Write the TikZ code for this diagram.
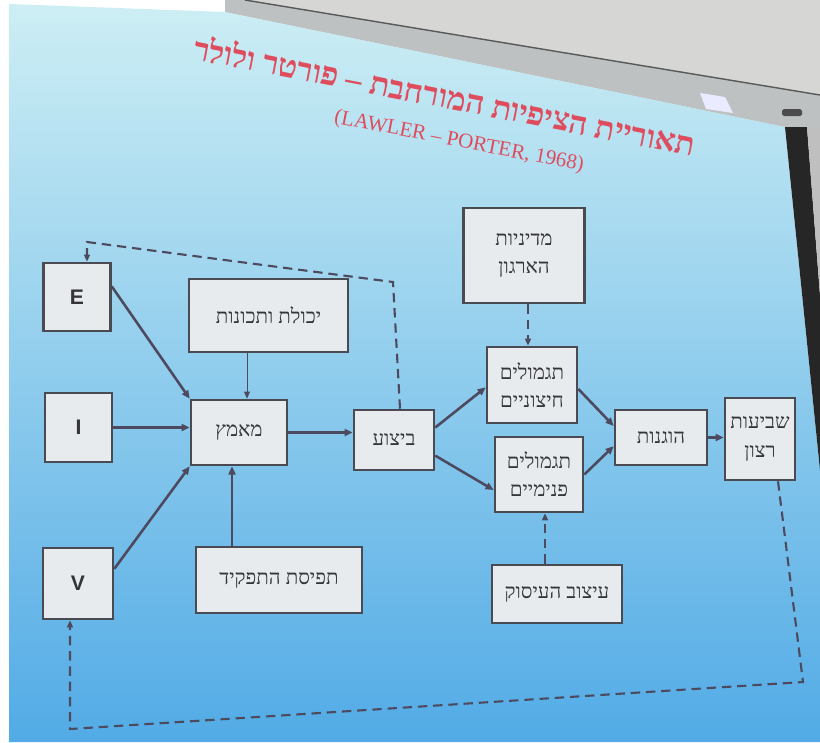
\documentclass[tikz,border=0pt]{standalone}
\usepackage{fontspec}
\setmainfont{Liberation Serif}
\newfontfamily\hebfont[Script=Hebrew]{Liberation Serif}
\newfontfamily\latsans{Liberation Sans}
\TeXXeTstate=1
\usetikzlibrary{arrows.meta,calc}
\newcommand\pxu{0.03cm}
\newcommand\heb[1]{\beginR #1\endR}
\definecolor{ln}{HTML}{4D4A60}
\definecolor{bxfill}{HTML}{E7EBED}
\definecolor{bxdraw}{HTML}{4A4A52}
\definecolor{bxtext}{HTML}{34343A}
\definecolor{ttl}{HTML}{DE4C5E}
\definecolor{scrtop}{HTML}{CDEEF4}
\definecolor{scrmid}{HTML}{92D4F0}
\definecolor{scrbot}{HTML}{52ABE6}
\definecolor{wall}{HTML}{D6D6D4}
\definecolor{casing}{HTML}{BDC1C2}
\begin{document}
\begin{tikzpicture}[x=0.03cm,y=-0.03cm,
  box/.style={draw=bxdraw, fill=bxfill, line width=2.2pt, inner sep=0pt,
    text=bxtext, align=center, font=\hebfont\fontsize{17.5}{21}\selectfont},
  letter/.style={box, font=\latsans\bfseries\fontsize{18}{20}\selectfont},
  arr/.style={draw=ln, line width=2.2pt, -{Triangle[length=7pt,width=6pt]}},
  thinarr/.style={draw=ln, line width=0.8pt, -{Triangle[length=6pt,width=5pt]}},
  dashline/.style={draw=ln, line width=1.8pt, dash pattern=on 8pt off 5pt},
  dasharr/.style={dashline, -{Triangle[length=6pt,width=5pt]}}]
\useasboundingbox (0,0) rectangle (820,742);
% photo background
\fill[white] (0,0) rectangle (820,742);
\fill[wall] (225,0) -- (820,0) -- (820,127) -- (785,127) -- (225,12) -- cycle;
\fill[casing] (245,0) -- (820,95) -- (820,127) -- (785,127) -- (225,12) -- (225,0) -- cycle;
\draw[black!65, line width=1.2pt] (245,0) -- (820,95);
\shade[top color=scrtop, middle color=scrmid, bottom color=scrbot]
  (9,4) -- (225,12) -- (785,127) -- (820,470) -- (820,742) -- (9,742) -- cycle;
\fill[black!85] (785,127) -- (807,127) -- (820,295) -- (820,470) -- cycle;
\fill[black!25] (807,127) -- (820,127) -- (820,295) -- cycle;
\fill[white!92!blue] (700,93) -- (725,97) -- (733,113) -- (706,109) -- cycle;
\fill[black!70, rounded corners=1.5pt] (782,109) rectangle (802,116);
% title
\node[rotate=-11, text=ttl, font=\hebfont\bfseries\fontsize{27.5}{30}\selectfont] (title) at (445,95)
  {\heb{תאוריית הציפיות המורחבת – פורטר ולולר}};
\node[rotate=-11, text=ttl, font=\fontsize{18}{20}\selectfont] (sub) at (459,142)
  {(LAWLER – PORTER, 1968)};
% boxes
\node[letter, minimum width=67*\pxu, minimum height=68*\pxu] (E) at (77,297) {E};
\node[letter, minimum width=67*\pxu, minimum height=69*\pxu] (I) at (78.5,427.5) {I};
\node[letter, minimum width=70*\pxu, minimum height=71*\pxu] (V) at (78,583.5) {V};
\node[box, minimum width=159*\pxu, minimum height=73*\pxu] (ab) at (268.5,315.5) {\heb{יכולת ותכונות}};
\node[box, minimum width=96*\pxu, minimum height=65*\pxu] (m) at (239,432.5) {\heb{מאמץ}};
\node[box, minimum width=166*\pxu, minimum height=66*\pxu] (rp) at (279,580) {\heb{תפיסת התפקיד}};
\node[box, minimum width=80*\pxu, minimum height=60*\pxu] (b) at (394,440) {\heb{ביצוע}};
\node[box, minimum width=121*\pxu, minimum height=95*\pxu] (pol) at (524,255.5) {\heb{מדיניות}\\[3pt]\heb{הארגון}};
\node[box, minimum width=90*\pxu, minimum height=76*\pxu] (ext) at (532,385) {\heb{תגמולים}\\[3pt]\heb{חיצוניים}};
\node[box, minimum width=88*\pxu, minimum height=75*\pxu] (int) at (539,474.5) {\heb{תגמולים}\\[3pt]\heb{פנימיים}};
\node[box, minimum width=92*\pxu, minimum height=55*\pxu] (ho) at (661,437.5) {\heb{הוגנות}};
\node[box, minimum width=70*\pxu, minimum height=82*\pxu] (sw) at (760,439) {\heb{שביעות}\\[3pt]\heb{רצון}};
\node[box, minimum width=130*\pxu, minimum height=58*\pxu] (js) at (557,594) {\heb{עיצוב העיסוק}};
% solid connectors
\draw[arr] ($(E.north east)!0.35!(E.south east)$) -- (m.north west);
\draw[arr] (I.east) -- (I.east -| m.west);
\draw[arr] ($(V.north east)!0.3!(V.south east)$) -- (m.south west);
\draw[thinarr] (ab.south -| 247,0) -- (m.north -| 247,0);
\draw[arr] (rp.north -| 232,0) -- (m.south -| 232,0);
\draw[arr] (m.east) -- (m.east -| b.west);
\draw[arr] ($(b.north east)!0.3!(b.south east)$) -- ($(ext.north west)!0.53!(ext.south west)$);
\draw[arr] ($(b.north east)!0.75!(b.south east)$) -- ($(int.north west)!0.7!(int.south west)$);
\draw[arr] ($(ext.north east)!0.55!(ext.south east)$) -- ($(ho.north west)!0.3!(ho.south west)$);
\draw[arr] ($(int.north east)!0.5!(int.south east)$) -- ($(ho.north west)!0.65!(ho.south west)$);
\draw[arr] (ho.east) -- (ho.east -| sw.west);
% dashed connectors
\draw[dasharr] (pol.south -| 528,0) -- (ext.north -| 528,0);
\draw[dasharr] (js.north -| 545,0) -- (int.south -| 545,0);
\coordinate (tb) at ($(b.north)+(6,0)$);
\coordinate (tc1) at (393,282);
\coordinate (tc2) at (87,242);
\draw[dasharr] (tb) -- (tc1) -- (tc2) -- (E.north -| tc2);
\coordinate (bs) at ($(sw.south)+(18,0)$);
\coordinate (bc1) at (803,682);
\coordinate (bc2) at (70,729);
\draw[dasharr] (bs) -- (bc1) -- (bc2) -- (V.south -| bc2);
\end{tikzpicture}
\end{document}
